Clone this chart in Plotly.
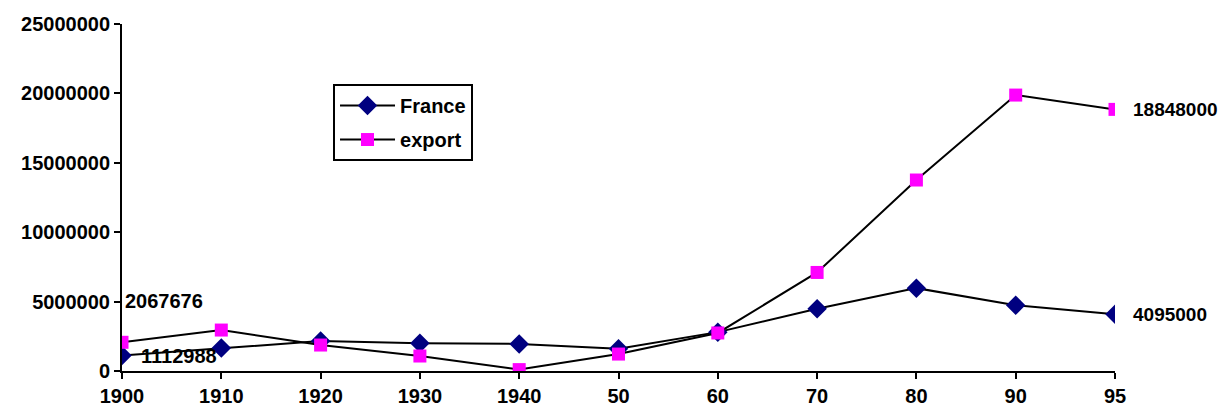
import plotly.graph_objects as go

categories = ["1900", "1910", "1920", "1930", "1940", "50", "60", "70", "80", "90", "95"]
france = [1112988, 1660000, 2160000, 2000000, 1950000, 1600000, 2800000, 4480000, 5970000, 4740000, 4095000]
export = [2067676, 2950000, 1870000, 1080000, 100000, 1220000, 2740000, 7100000, 13760000, 19880000, 18848000]

FONT = "Liberation Sans, Arial, sans-serif"
fs = 20

fig = go.Figure()
fig.add_trace(go.Scatter(
    x=categories, y=france, name="France", mode="lines+markers",
    legendgroup="a",
    line=dict(color="black", width=2),
    marker=dict(symbol="diamond", color="#000080", size=15),
))
fig.add_trace(go.Scatter(
    x=categories, y=export, name="export", mode="lines+markers",
    legendgroup="b",
    line=dict(color="black", width=2),
    marker=dict(symbol="square", color="#FF00FF", size=13),
))

first, last = 0, len(categories) - 1
labels = [
    (first, export[first], 1, 41, fs),
    (first, france[first], 17, 0, fs),
    (last, export[last], 16, 0, 19),
    (last, france[last], 16, 0, 19),
]
for xi, yv, dx, dy, size in labels:
    fig.add_annotation(x=xi, y=yv, xref="x", yref="y", text=str(yv), showarrow=False,
                       xanchor="left", yanchor="middle", xshift=dx, yshift=dy,
                       font=dict(family=FONT, size=size, color="black", weight="bold"))

fig.update_layout(
    width=1229, height=412,
    margin=dict(l=122, r=114, t=24, b=41, autoexpand=False),
    paper_bgcolor="white", plot_bgcolor="white",
    font=dict(family=FONT, size=fs, color="black", weight="bold"),
    showlegend=True,
    legend=dict(x=0.2125, y=0.827, xanchor="left", yanchor="top",
                bordercolor="black", borderwidth=2, bgcolor="white",
                font=dict(family=FONT, size=fs, color="black", weight="bold"),
                tracegroupgap=5, itemwidth=55, traceorder="grouped"),
)
fig.update_xaxes(type="category", range=[0, len(categories) - 1], automargin=False,
                 showline=True, linecolor="black", linewidth=2,
                 ticks="outside", ticklen=6, tickcolor="black", tickwidth=2,
                 showgrid=False, zeroline=False,
                 tickfont=dict(family=FONT, size=fs, color="black", weight="bold"))
fig.update_yaxes(range=[0, 25000000], dtick=5000000, tickformat="d", automargin=False,
                 showline=True, linecolor="black", linewidth=2,
                 ticks="outside", ticklen=6, tickcolor="black", tickwidth=2,
                 showgrid=False, zeroline=False,
                 tickfont=dict(family=FONT, size=fs, color="black", weight="bold"))

fig.write_html(
    "out.html",
    config={"displayModeBar": False},
    post_script="document.body.style.margin='0';document.body.style.overflow='hidden';",
)
